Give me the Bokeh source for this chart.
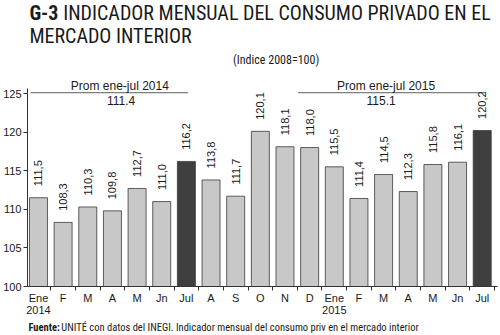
import math
from bokeh.plotting import figure
from bokeh.layouts import column
from bokeh.models import Range1d, FixedTicker
from bokeh.core.properties import value
from bokeh.embed import file_html
from bokeh.resources import INLINE

months = ["Ene\n2014", "F", "M", "A", "M", "Jn", "Jul", "A", "S", "O", "N", "D",
          "Ene\n2015", "F", "M", "A", "M", "Jn", "Jul"]
values = [111.5, 108.3, 110.3, 109.8, 112.7, 111.0, 116.2, 113.8, 111.7, 120.1,
          118.1, 118.0, 115.5, 111.4, 114.5, 112.3, 115.8, 116.1, 120.2]
y_ticks = [100, 105, 110, 115, 120, 125]
avg_2014 = 111.4
avg_2015 = 115.1

NARROW = "Roboto Condensed"
REG = "Liberation Sans"
INK = "#1a1a1a"

idx = list(range(len(values)))
colors = ["#3f3f3f" if m == "Jul" else "#c8c8c8" for m in months]
val_text = [f"{v:.1f}".replace(".", ",") for v in values]


def blank(height, y0, y1):
    f = figure(width=500, height=height, output_backend="svg", toolbar_location=None,
               x_range=Range1d(0, 500), y_range=Range1d(y0, y1),
               x_axis_type=None, y_axis_type=None,
               min_border=0, min_border_left=0, min_border_right=0,
               min_border_top=0, min_border_bottom=0)
    f.outline_line_color = None
    f.xgrid.visible = False
    f.ygrid.visible = False
    return f


# ---- title strip (canvas y 0..50) ----
t = blank(50, 50, 0)
t.text(x=[2], y=[12.5], text=["G-3"], text_font=value(NARROW), text_font_size="20px",
       text_font_style="bold", text_baseline="middle", text_color=INK)
t.text(x=[38, 2], y=[12.5, 35.5],
       text=["INDICADOR MENSUAL DEL CONSUMO PRIVADO EN EL", "MERCADO INTERIOR"],
       text_font=value(NARROW), text_font_size="20px",
       text_baseline="middle", text_color=INK)

# ---- main chart (canvas y 50..319) ----
p = figure(width=500, height=269, output_backend="svg", toolbar_location=None,
           x_range=Range1d(-0.445, 18.62), y_range=Range1d(100, 130.57),
           min_border_left=26, min_border_right=3, min_border_top=0,
           min_border_bottom=33)
p.outline_line_color = None
p.xgrid.visible = False
p.ygrid.visible = False

p.vbar(x=idx, top=values, bottom=100, width=0.73, fill_color=colors,
       line_color="#3a3a3a", line_width=0.8)

p.text(x=idx, y=[v + 1.5 for v in values], text=val_text, angle=math.pi / 2,
       text_align="left", text_baseline="middle",
       text_font=value(REG), text_font_size="11px", text_color=INK)

p.text(x=[9.64], y=[129.4], text=["(Indice 2008=100)"], text_align="center",
       text_baseline="middle", text_font=value(NARROW), text_font_size="12px",
       text_color=INK)

p.segment(x0=[-0.32, 10.53], y0=[125.1, 125.1], x1=[6.07, 18.14], y1=[125.1, 125.1],
          line_color="#333333", line_width=0.8)
p.text(x=[3.3, 14.1], y=[126.0, 126.0],
       text=["Prom ene-jul 2014", "Prom ene-jul 2015"],
       text_align="center", text_baseline="middle",
       text_font=value(REG), text_font_size="12px", text_color=INK)
p.text(x=[3.35, 13.9], y=[124.1, 124.1],
       text=[f"{avg_2014:.1f}", f"{avg_2015:.1f}"],
       text_align="center", text_baseline="middle",
       text_font=value(REG), text_font_size="12px", text_color=INK)

xa = p.xaxis[0]
xa.ticker = FixedTicker(ticks=idx, minor_ticks=[i + 0.5 for i in range(-1, len(idx))])
xa.major_label_overrides = {i: m for i, m in enumerate(months)}
xa.major_tick_out = 0
xa.major_tick_in = 0
xa.minor_tick_out = 4
xa.minor_tick_in = 0
xa.major_label_standoff = 1
xa.major_label_text_font = REG
xa.major_label_text_font_size = "11px"
xa.major_label_text_line_height = 1.0
xa.major_label_text_color = INK
xa.axis_line_color = "#333333"
xa.minor_tick_line_color = "#333333"

ya = p.yaxis[0]
ya.ticker = FixedTicker(ticks=y_ticks)
ya.bounds = (100, 125.6)
ya.major_tick_out = 4
ya.major_tick_in = 0
ya.minor_tick_out = 0
ya.minor_tick_in = 0
ya.major_label_standoff = 2
ya.major_label_text_font = REG
ya.major_label_text_font_size = "11px"
ya.major_label_text_color = INK
ya.axis_line_color = "#333333"
ya.major_tick_line_color = "#333333"

# ---- footer strip (canvas y 319..335) ----
f = blank(16, 335, 319)
f.text(x=[1], y=[327], text=["Fuente:"], text_font=value(NARROW), text_font_size="10.5px",
       text_font_style="bold", text_baseline="middle", text_color=INK)
f.text(x=[36], y=[327],
       text=["UNITÉ con datos del INEGI. Indicador mensual del consumo priv en el mercado interior"],
       text_font=value(NARROW), text_font_size="10.5px",
       text_baseline="middle", text_color=INK)

layout = column(t, p, f, spacing=0)
open("out.html", "w").write(file_html(layout, INLINE))
